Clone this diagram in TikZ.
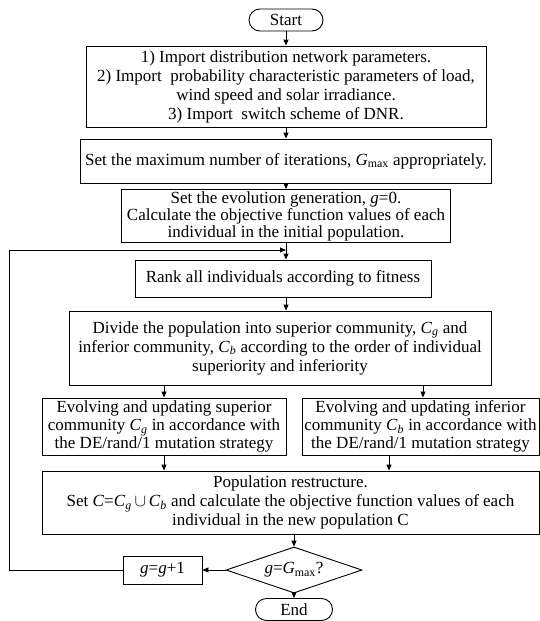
\documentclass[tikz,border=0pt]{standalone}
\usepackage{fontspec}
\setmainfont{Liberation Serif}
\usetikzlibrary{arrows.meta,shapes.geometric}
\newcommand\subtx[1]{\textsubscript{#1}}
\begin{document}
\begin{tikzpicture}[x=1pt,y=-1pt,
  every node/.style={font=\fontsize{17}{19}\selectfont},
  tight/.style={font=\fontsize{17}{17}\selectfont},
  mid/.style={font=\fontsize{17}{18}\selectfont},
  box/.style={draw, line width=0.9pt, align=center, inner sep=0pt, rectangle},
  term/.style={box, rounded corners=11pt},
  arr/.style={line width=0.9pt, -{Triangle[length=6pt,width=5pt]}},
  ln/.style={line width=0.9pt}]
\useasboundingbox (0,0) rectangle (540,621);
\node[term, minimum width=74pt, minimum height=22pt] (start) at (286,20) {Start};
\node[box, minimum width=400pt, minimum height=81pt] (b1) at (286,86.5) {1) Import distribution network parameters.\\
2) Import\ \ probability characteristic parameters of load,\\
wind speed and solar irradiance.\\
3) Import\ \ switch scheme of DNR.};
\node[box, minimum width=411pt, minimum height=44pt] (b2) at (286,161) {Set the maximum number of iterations, \textit{G}\subtx{max} appropriately.};
\node[box, tight, minimum width=329pt, minimum height=53pt] (b3) at (286,216) {Set the evolution generation, \textit{g}=0.\\
Calculate the objective function values of each\\
individual in the initial population.};
\node[box, minimum width=296pt, minimum height=37pt] (rank) at (283,278.5) {Rank all individuals according to fitness};
\node[box, minimum width=422pt, minimum height=74pt] (div) at (280,348) {Divide the population into superior community, \textit{C}\subtx{\textit{g}} and\\
inferior community, \textit{C}\subtx{\textit{b}} according to the order of individual\\
superiority and inferiority};
\node[box, mid, minimum width=244pt, minimum height=57pt] (le) at (164,426.5) {Evolving and updating superior\\
community \textit{C}\subtx{\textit{g}} in accordance with\\
the DE/rand/1 mutation strategy};
\node[box, mid, minimum width=237pt, minimum height=57pt] (ri) at (420.5,426.5) {Evolving and updating inferior\\
community \textit{C}\subtx{\textit{b}} in accordance with\\
the DE/rand/1 mutation strategy};
\node[box, minimum width=497pt, minimum height=63pt] (pop) at (290.5,502.5) {Population restructure.\\
Set \textit{C}=\textit{C}\subtx{\textit{g}}\,$\cup$\,\textit{C}\subtx{\textit{b}} and calculate the objective function values of each\\
individual in the new population C};
\node[draw, line width=0.9pt, diamond, aspect=3, inner sep=0pt, minimum width=136pt, minimum height=46pt] (dia) at (294,570) {\textit{g}=\textit{G}\subtx{max}?};
\node[box, minimum width=79pt, minimum height=28pt] (gb) at (162.5,570) {\textit{g}=\textit{g}+1};
\node[term, minimum width=77pt, minimum height=22pt] (end) at (294,609.5) {End};
\coordinate (lft) at (9,250);
\coordinate (join) at (286,250);
\draw[arr] (start.south) -- (b1.north);
\draw[arr] (b1.south) -- (b2.north);
\draw[arr] (b2.south) -- (b3.north);
\draw[arr] (b3.south) -- (b3.south |- rank.north);
\draw[arr] (rank.south -| b3.south) -- (b3.south |- div.north);
\draw[arr] (le.north |- div.south) -- (le.north);
\draw[arr] ([xshift=2.5pt]ri.north |- div.south) -- ([xshift=2.5pt]ri.north);
\draw[arr] (le.south) -- (le.south |- pop.north);
\draw[arr] ([xshift=-31.5pt]ri.south) -- ([xshift=-31.5pt]ri.south |- pop.north);
\draw[arr] (dia.north |- pop.south) -- (dia.north);
\draw[arr] (dia.south) -- (end.north);
\draw[arr] (dia.west) -- (gb.east);
\draw[arr] (gb.west) -| (lft) -- (join);
\end{tikzpicture}
\end{document}
